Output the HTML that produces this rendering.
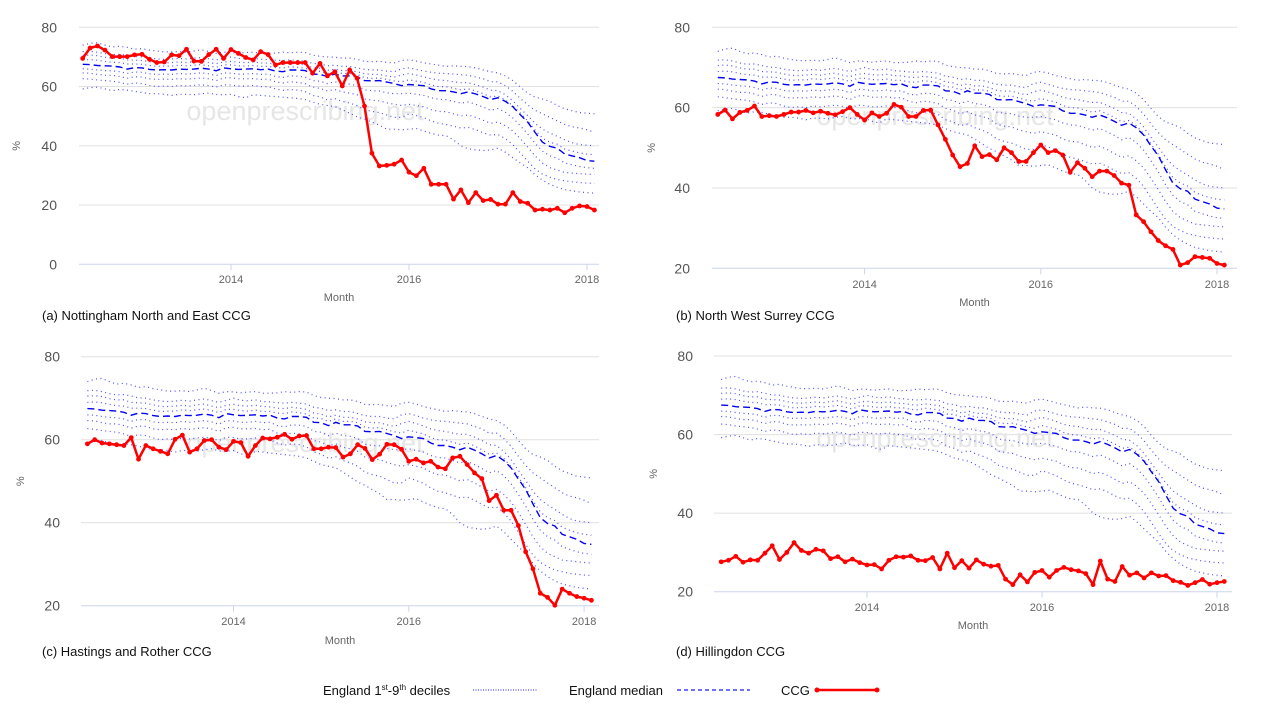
<!DOCTYPE html>
<html><head><meta charset="utf-8"><title>CCG vs England deciles</title>
<style>
html,body{margin:0;padding:0;background:#fff;width:1280px;height:720px;overflow:hidden;}
svg{display:block;font-family:"Liberation Sans",sans-serif;}
.cap{font-size:13px;fill:#111;}
.lg{font-size:13px;fill:#111;}
</style></head>
<body>
<svg id="chart" width="1280" height="720" viewBox="0 0 1280 720" xmlns="http://www.w3.org/2000/svg">
  <g id="panels"></g>
  <g id="legend">
    <text class="lg" x="323" y="695">England 1<tspan font-size="8" dy="-5">st</tspan><tspan dy="5">-9</tspan><tspan font-size="8" dy="-5">th</tspan><tspan dy="5"> deciles</tspan></text>
    <line x1="473" y1="690" x2="537" y2="690" stroke="#4d4dff" stroke-width="1.2" stroke-dasharray="1,1.5"/>
    <text class="lg" x="569" y="695">England median</text>
    <line x1="677" y1="690" x2="750" y2="690" stroke="#1a1aff" stroke-width="1.2" stroke-dasharray="4,3"/>
    <text class="lg" x="781" y="695">CCG</text>
    <line x1="817" y1="690" x2="877" y2="690" stroke="#ff0000" stroke-width="2.5"/>
    <circle cx="817" cy="690" r="2.5" fill="#ff0000"/>
    <circle cx="877" cy="690" r="2.5" fill="#ff0000"/>
  </g>
</svg>
<script>
// Months: May 2012 .. Feb 2018 (70 months)
const startYear = 2012, startMonth = 5;
const xTickLabels = ["2014", "2016", "2018"];
const yTicksA = [0, 20, 40, 60, 80];
const yTicksB = [20, 40, 60, 80];

const median = [67.5,67.4,67.1,67.0,66.9,66.6,65.9,66.4,
66.3,65.8,65.6,65.7,65.6,65.9,65.8,65.9,66.2,65.9,65.3,66.3,
66.0,65.8,65.9,66.0,65.7,65.9,65.2,65.0,65.6,65.6,65.4,64.2,
64.1,63.4,64.2,63.6,63.6,63.3,62.0,61.9,62.0,61.5,61.0,60.3,
60.7,60.5,60.3,59.2,58.6,58.6,58.2,57.6,58.2,57.5,56.6,55.6,
56.2,55.0,53.2,50.5,48.0,44.5,41.2,39.8,39.2,37.2,36.6,36.0,
35.0,34.8];
const decile9 = [74.0,74.6,74.8,74.0,73.4,73.6,73.2,72.6,
72.8,72.3,72.0,71.7,71.7,71.8,71.6,72.0,72.4,71.8,71.2,71.6,
71.5,71.3,71.5,71.6,71.2,71.2,71.3,71.6,71.4,71.6,71.5,70.6,
70.2,70.0,69.9,69.6,69.6,69.2,68.5,68.4,68.5,68.2,68.0,68.8,
69.0,68.6,68.0,67.6,67.2,66.8,67.0,66.8,66.7,66.3,65.6,65.0,
64.6,63.6,62.0,59.8,57.8,56.4,55.8,55.0,53.6,52.5,51.8,51.2,
51.0,50.8];
const decile8 = [71.8,71.9,71.6,71.1,70.8,70.9,70.5,70.1,
70.0,69.6,69.3,69.2,69.3,69.5,69.3,69.6,69.8,69.4,69.0,69.5,
70.0,69.5,69.4,69.6,69.2,69.1,68.9,68.8,69.0,68.8,68.6,67.8,
67.6,67.0,67.2,66.8,66.8,66.3,65.8,65.6,65.6,65.2,65.0,66.0,
66.3,65.8,65.2,64.8,64.5,64.4,64.2,64.0,63.8,63.2,62.6,61.6,
61.6,60.3,58.4,56.0,53.8,52.0,50.8,49.6,48.4,47.2,46.4,46.0,
45.4,44.6];
const decile7 = [70.5,70.6,70.4,69.9,69.6,69.6,69.0,68.9,
68.8,68.4,68.0,68.0,68.1,68.3,68.1,68.4,68.6,68.1,67.7,68.3,
68.5,68.2,68.1,68.3,68.0,67.9,67.6,67.5,67.8,67.6,67.3,66.4,
66.2,65.5,65.9,65.4,65.4,65.0,64.3,64.1,64.1,63.6,63.2,63.9,
64.4,63.9,63.3,62.6,62.2,62.0,61.6,61.3,61.3,60.6,59.8,58.8,
58.6,57.2,55.2,52.6,50.2,47.6,45.6,44.3,43.2,42.0,41.0,40.4,
40.2,40.0];
const decile6 = [69.0,69.1,68.9,68.5,68.2,68.1,67.6,67.6,
67.5,67.1,66.8,66.9,66.9,67.2,67.0,67.2,67.4,67.0,66.5,67.3,
67.3,67.0,66.9,67.1,66.8,66.8,66.4,66.3,66.7,66.5,66.2,65.2,
65.1,64.4,65.0,64.4,64.4,64.1,63.0,62.8,62.9,62.4,61.9,61.6,
62.3,61.8,61.4,60.5,60.0,59.9,59.4,58.9,59.2,58.5,57.6,56.5,
56.8,55.5,53.5,51.0,48.4,45.3,42.6,41.2,40.5,38.9,38.2,37.6,
37.2,37.0];
const decile4 = [66.0,65.9,65.6,65.4,65.3,65.0,64.4,64.9,
64.8,64.3,64.1,64.2,64.1,64.4,64.2,64.4,64.6,64.3,63.7,64.6,
64.5,64.2,64.2,64.4,64.1,64.2,63.4,63.1,63.6,63.5,63.2,62.0,
61.8,61.0,61.6,61.0,60.8,60.3,58.9,58.6,58.5,57.9,57.6,57.6,
57.8,57.4,57.0,56.2,55.7,55.6,55.0,54.4,54.8,54.0,53.1,52.0,
52.6,51.3,49.4,46.8,44.0,40.8,38.2,36.6,35.8,34.2,33.6,33.0,
32.6,32.4];
const decile3 = [64.6,64.5,64.1,63.8,63.8,63.4,62.8,63.3,
63.2,62.6,62.4,62.5,62.4,62.7,62.5,62.7,62.9,62.6,62.0,62.9,
63.0,62.6,62.6,62.7,62.4,62.5,61.6,61.2,61.6,61.4,61.0,59.8,
59.4,58.5,59.0,58.2,57.8,57.2,55.8,55.4,55.2,54.5,54.0,53.6,
54.0,53.6,53.2,52.2,51.6,51.5,50.8,50.1,50.4,49.6,48.6,47.6,
48.0,46.8,45.0,42.4,39.6,36.6,34.2,32.6,31.8,31.0,30.8,30.6,
30.4,30.3];
const decile2 = [62.7,62.5,62.2,62.0,61.8,61.4,60.8,61.2,
61.0,60.4,60.0,60.2,60.0,60.4,60.2,60.4,60.6,60.3,59.8,60.6,
60.5,60.2,60.2,60.4,60.0,60.0,59.2,58.7,59.0,58.8,58.3,57.0,
56.5,55.5,55.9,55.0,54.4,53.6,52.2,51.6,51.2,50.4,49.6,49.6,
50.8,50.2,49.5,48.4,47.6,47.2,46.6,46.0,46.2,45.4,44.4,43.6,
43.8,42.4,40.4,37.6,34.8,32.2,30.4,29.4,28.6,28.2,27.8,27.6,
27.4,27.3];
const decile1 = [59.2,59.6,59.8,59.2,58.6,59.0,58.8,58.4,
58.0,57.6,57.6,57.4,57.0,57.4,57.4,57.2,57.6,57.8,57.3,57.2,
57.4,56.6,56.2,57.2,57.0,56.8,56.6,56.4,56.2,56.0,55.6,54.8,
54.0,53.6,53.2,52.2,51.0,49.8,49.0,48.0,47.0,45.6,45.6,45.4,
45.6,45.8,45.0,44.2,43.6,43.4,42.0,40.0,39.0,38.6,38.4,38.6,
39.2,37.8,36.0,34.2,32.6,30.2,28.4,27.0,26.0,25.2,24.8,24.4,
24.2,24.0];

const ccgNottingham = [69.5,73,73.7,72.3,70.1,70.1,70.1,70.7,70.9,69.2,
68.1,68.3,70.7,70.4,72.6,68.6,68.5,70.8,72.6,69.5,
72.5,71.2,69.8,69,71.8,70.8,67.3,68.1,68.1,68.1,
68.1,64.5,67.8,63.6,65,60.2,65.6,62.8,53.4,37.5,
33.2,33.4,33.8,35.2,31.1,29.9,32.4,27,27,27,
22,25.1,20.8,24.2,21.5,21.9,20.3,20.3,24.2,21.2,
20.6,18.3,18.6,18.3,18.9,17.4,18.9,19.7,19.5,18.3];
const ccgSurrey = [58.3,59.4,57.2,58.8,59.3,60.4,57.8,58,57.8,58.3,
58.9,58.9,59.3,58.7,59.1,58.6,58.2,59,60,58.3,
56.9,58.7,57.8,58.6,60.8,60.1,57.8,57.8,59.3,59.4,
55.7,52.1,48.2,45.3,46.1,50.5,47.8,48.3,47,50,
48.8,46.6,46.6,48.8,50.7,48.8,49.3,48.2,43.9,46.3,
44.9,42.8,44.2,44.2,43.1,41.2,40.7,33.3,31.6,29.1,
26.9,25.6,24.7,20.8,21.4,22.9,22.7,22.5,21.2,20.8];
const ccgHastings = [59,60,59.2,59,58.8,58.6,60.5,55.3,58.6,
57.8,57.2,56.6,60.1,61.1,57,57.8,59.8,60,58.2,
57.6,59.6,59.3,56,58.6,60.4,60.2,60.6,61.3,60.1,
60.9,61,57.8,57.8,58.2,58.1,55.8,56.6,58.8,57.9,
55.2,56.5,58.9,58.8,57.7,54.8,55.3,54.4,54.8,53.4,
53,55.6,56,54,52,50.6,45.3,46.6,43,43,
39.3,33,28.9,23,22,20.1,24,23,22.2,21.8,21.3];
const ccgHillingdon = [27.6,28,29,27.5,28.1,28,29.8,31.7,28.2,30,
32.5,30.5,29.8,30.8,30.4,28.4,28.9,27.6,28.3,27.4,
26.8,26.9,25.8,28,28.9,28.8,29.1,28,27.9,28.7,
25.8,29.8,26.1,27.9,26,28.1,27,26.5,26.7,23.2,
21.8,24.3,22.5,24.9,25.4,23.7,25.4,26.2,25.6,25.3,
24.6,21.8,27.8,23.2,22.6,26.4,24.2,24.8,23.5,24.8,
24,24.1,22.8,22.4,21.6,22.3,23.1,21.9,22.3,22.6];

const decileSeries = [decile1, decile2, decile3, decile4, decile6, decile7, decile8, decile9];

const panels = [
  {id:"a", caption:"(a) Nottingham North  and East CCG", ccg:ccgNottingham, yMin:0, ticks:yTicksA,
   left:79, right:599, y80:27.3, yBase:264.3, x2014:231, x2016:409, tickY:283, monthY:301, capX:42, capY:320, labelR:57, pctX:20, wmX:305, wmY:120},
  {id:"b", caption:"(b) North West Surrey CCG", ccg:ccgSurrey, yMin:20, ticks:yTicksB,
   left:712, right:1237, y80:27.3, yBase:268.3, x2014:864.6, x2016:1040.8, tickY:288, monthY:306, capX:676, capY:320, labelR:690, pctX:655, wmX:935, wmY:125},
  {id:"c", caption:"(c) Hastings and Rother CCG", ccg:ccgHastings, yMin:20, ticks:yTicksB,
   left:81, right:599, y80:356.7, yBase:605.7, x2014:233.5, x2016:408.8, tickY:625, monthY:644, capX:42, capY:656, labelR:60, pctX:24, wmX:305, wmY:452},
  {id:"d", caption:"(d) Hillingdon CCG", ccg:ccgHillingdon, yMin:20, ticks:yTicksB,
   left:714, right:1232, y80:356, yBase:591.7, x2014:867, x2016:1042, tickY:611, monthY:629, capX:676, capY:656, labelR:693, pctX:657, wmX:935, wmY:447}
];

const NS = "http://www.w3.org/2000/svg";
function mk(tag, attrs, parent){
  const e = document.createElementNS(NS, tag);
  for (const k in attrs) e.setAttribute(k, attrs[k]);
  parent.appendChild(e);
  return e;
}
const root = document.getElementById("panels");

panels.forEach(p => {
  const g = mk("g", {}, root);
  
  
  const perMonth = (p.x2016 - p.x2014) / 24;
  const xScale = i => p.x2014 + (i + (startMonth - 1) + (startYear - 2014) * 12) * perMonth;
  const yScale = v => p.yBase - (v - p.yMin) / (80 - p.yMin) * (p.yBase - p.y80);

  p.ticks.forEach(t => {
    const y = yScale(t);
    const ln = mk("line", {x1:p.left, x2:p.right, y1:y, y2:y, stroke: t === p.yMin ? "#ccd6eb" : "#e0e0e0", "stroke-width":1}, g);
    
    
    const tx = mk("text", {x:p.labelR, y:y+5, "text-anchor":"end", "font-size":14, fill:"#555"}, g);
    tx.textContent = t;
    
    
  });
  xTickLabels.forEach((lab, k) => {
    const i = (parseInt(lab) - startYear) * 12 - (startMonth - 1);
    const x = xScale(i);
    const tk = mk("line", {x1:x, x2:x, y1:p.yBase, y2:p.yBase+6, stroke:"#ccd6eb"}, g);
    
    
    const tx = mk("text", {x:x, y:p.tickY, "text-anchor":"middle", "font-size":11, fill:"#666"}, g);
    tx.textContent = lab;
    
    
  });
  const mt = mk("text", {x:(p.left+p.right)/2, y:p.monthY, "text-anchor":"middle", "font-size":11, fill:"#666"}, g);
  mt.textContent = "Month";
  
  
  const yc = (p.yBase + p.y80) / 2;
  const pt = mk("text", {x:p.pctX, y:yc, "text-anchor":"middle", "font-size":11, fill:"#666", transform:`rotate(-90 ${p.pctX} ${yc})`}, g);
  pt.textContent = "%";
  
  

  const wm = mk("text", {x:p.wmX, y:p.wmY, "text-anchor":"middle", "font-size":27, fill:"#e6e6e6"}, g);
  wm.textContent = "openprescribing.net";
  
  

  const pathOf = arr => arr.map((v, i) => (i ? "L" : "M") + xScale(i).toFixed(1) + "," + yScale(v).toFixed(1)).join("");
  decileSeries.forEach((arr, k) => {
    const d = mk("path", {d:pathOf(arr), fill:"none", stroke:"#4d4dff", "stroke-width":1.2, "stroke-dasharray":"1,3.5"}, g);
    
    
  });
  const md = mk("path", {d:pathOf(median), fill:"none", stroke:"#0000ee", "stroke-width":1.4, "stroke-dasharray":"7,4"}, g);
  
  

  const cl = mk("path", {d:pathOf(p.ccg), fill:"none", stroke:"#ff0000", "stroke-width":2.5, "stroke-linejoin":"round"}, g);
  
  
  p.ccg.forEach((v, i) => {
    const c = mk("circle", {cx:xScale(i), cy:yScale(v), r:2.4, fill:"#ff0000"}, g);
    
    
  });

  const cap = mk("text", {x:p.capX, y:p.capY, "font-size":13, fill:"#111", class:"cap"}, g);
  cap.textContent = p.caption;
  
  
});
</script>
</body></html>
